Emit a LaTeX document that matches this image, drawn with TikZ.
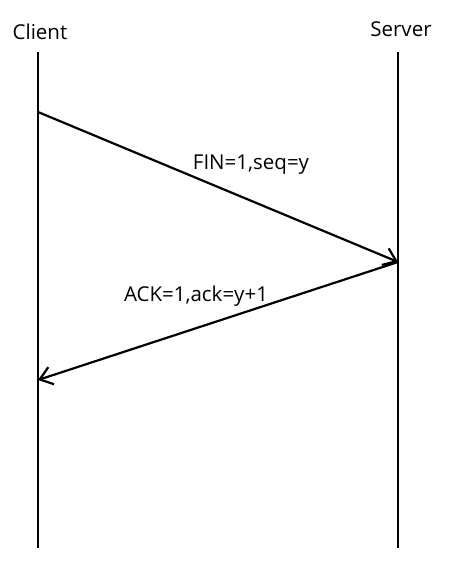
\documentclass[tikz,border=0pt]{standalone}
\usepackage{fontspec}
\setmainfont{Open Sans}
\usetikzlibrary{arrows.meta}
\begin{document}
\begin{tikzpicture}[x=1pt,y=-1pt,
  life/.style={line width=2.2pt},
  msg/.style={line width=2.2pt,-{Straight Barb[length=12pt,width=18pt,line width=2.2pt]}},
  lbl/.style={font=\fontsize{20.5}{24}\selectfont,inner sep=0pt}]
\useasboundingbox (0,0) rectangle (466,564);
\node[lbl] (cl) at (40,32) {Client};
\node[lbl] (sl) at (401,29) {Server};
\coordinate (ct) at (38,52);
\coordinate (cb) at (38,548);
\coordinate (st) at (398,52);
\coordinate (sb) at (398,548);
\draw[life] (ct) -- (cb);
\draw[life] (st) -- (sb);
\coordinate (c1) at (38,112);
\coordinate (s1) at (398,262);
\coordinate (c2) at (38,380);
\draw[msg] (c1) -- (s1);
\draw[msg] (s1) -- (c2);
\node[lbl] (fin) at (251,165) {FIN=1,seq=y};
\node[lbl] (ack) at (196,296) {ACK=1,ack=y+1};
\end{tikzpicture}
\end{document}
